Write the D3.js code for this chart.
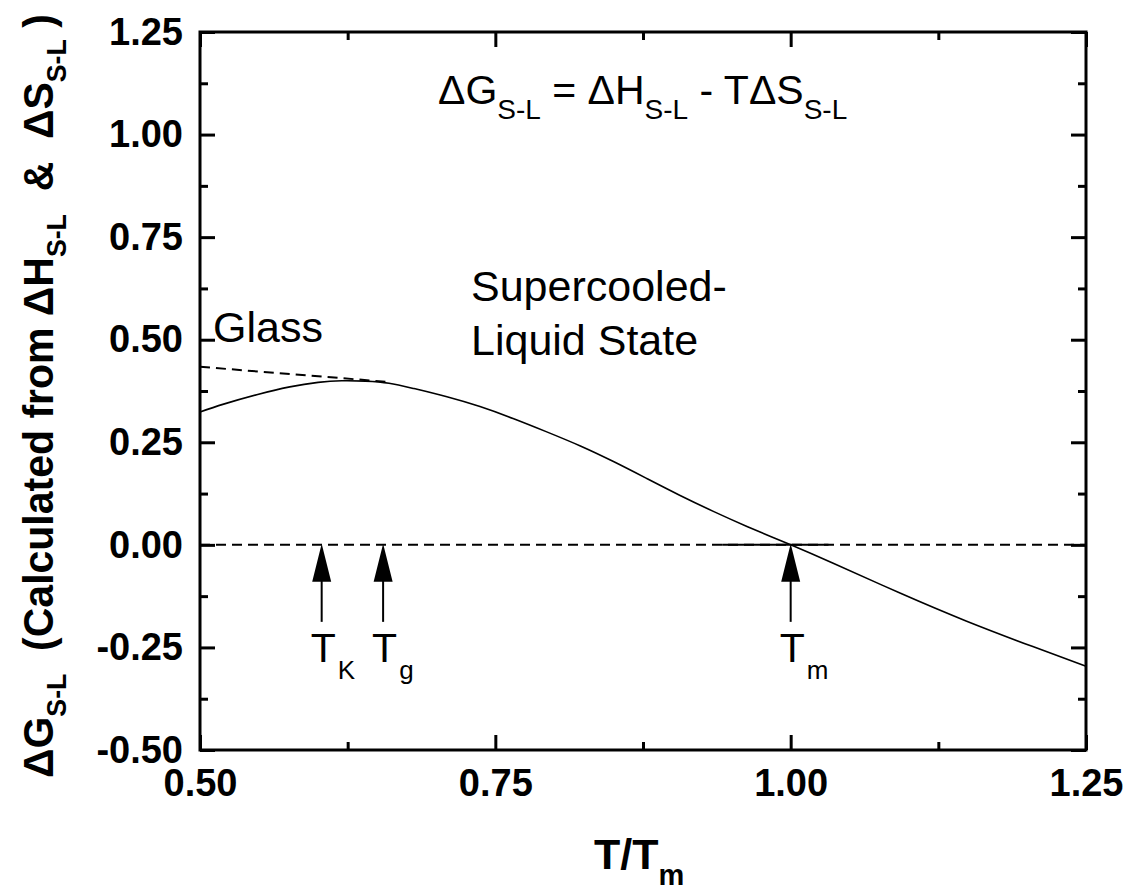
<!DOCTYPE html>
<html>
<head>
<meta charset="utf-8">
<script src="https://cdn.jsdelivr.net/npm/d3@7"></script>
<style>
  body { margin: 0; background: #fff; }
  svg text { font-family: "Liberation Sans", Arial, sans-serif; fill: #000; }
</style>
</head>
<body>
<svg id="chart" width="1139" height="892"></svg>
<script>
// values
var curveT = [0.50, 0.52, 0.548, 0.576, 0.60, 0.62, 0.64, 0.66, 0.681, 0.709, 0.737, 0.765, 0.793,
              0.822, 0.85, 0.878, 0.906, 0.935, 0.963, 1.0, 1.036, 1.093, 1.149, 1.205, 1.25];
var curveG = [0.324, 0.343, 0.366, 0.385, 0.396, 0.400, 0.399, 0.394, 0.381, 0.361, 0.337, 0.308, 0.276,
              0.241, 0.203, 0.162, 0.121, 0.081, 0.045, 0.0, -0.045, -0.118, -0.186, -0.248, -0.296];
var glassT = [0.50, 0.66];
var glassG = [0.434, 0.397];
var zeroT = [0.50, 1.25];
var meltT = [0.942, 1.032];
var arrowT = [0.603, 0.655, 1.0];
var arrowSub = ["K", "g", "m"];
var xMajor = [0.50, 0.75, 1.00, 1.25];
var xMinor = [0.625, 0.875, 1.125];
var yMajor = [-0.50, -0.25, 0.00, 0.25, 0.50, 0.75, 1.00, 1.25];
var yMinor = [-0.375, -0.125, 0.125, 0.375, 0.625, 0.875, 1.125];

var svg = d3.select("#chart");
var x = d3.scaleLinear().domain([0.5, 1.25]).range([200, 1086]);
var y = d3.scaleLinear().domain([-0.5, 1.25]).range([750, 32]);
var fmt = function(d) { return d3.format(".2f")(d).replace("\u2212", "-"); };

function styleAxis(g) {
    g.select(".domain").remove();
    g.selectAll(".tick line").attr("stroke", "#000").attr("stroke-width", 3);
    g.selectAll(".tick text").attr("font-size", 38).attr("font-weight", "bold")
        .attr("font-family", "'Liberation Sans', Arial, sans-serif");
}

// major + minor ticks on all four sides, pointing inward
svg.append("g").attr("transform", "translate(0,750)")
    .call(d3.axisBottom(x).tickValues(xMajor).tickSize(-15).tickPadding(19).tickFormat(fmt))
    .call(styleAxis);
svg.append("g").attr("transform", "translate(0,750)")
    .call(d3.axisBottom(x).tickValues(xMinor).tickSize(-8).tickFormat(""))
    .call(styleAxis);
svg.append("g").attr("transform", "translate(0,32)")
    .call(d3.axisTop(x).tickValues(xMajor).tickSize(-15).tickFormat(""))
    .call(styleAxis);
svg.append("g").attr("transform", "translate(0,32)")
    .call(d3.axisTop(x).tickValues(xMinor).tickSize(-8).tickFormat(""))
    .call(styleAxis);
svg.append("g").attr("transform", "translate(200,0)")
    .call(d3.axisLeft(y).tickValues(yMajor).tickSize(-15).tickPadding(17).tickFormat(fmt))
    .call(styleAxis);
svg.append("g").attr("transform", "translate(200,0)")
    .call(d3.axisLeft(y).tickValues(yMinor).tickSize(-8).tickFormat(""))
    .call(styleAxis);
svg.append("g").attr("transform", "translate(1086,0)")
    .call(d3.axisRight(y).tickValues(yMajor).tickSize(-15).tickFormat(""))
    .call(styleAxis);
svg.append("g").attr("transform", "translate(1086,0)")
    .call(d3.axisRight(y).tickValues(yMinor).tickSize(-8).tickFormat(""))
    .call(styleAxis);

// frame
svg.append("rect").attr("x", 200).attr("y", 32).attr("width", 886).attr("height", 718)
    .attr("fill", "none").attr("stroke", "#000").attr("stroke-width", 3);

var line = d3.line().x(function(d) { return x(d[0]); }).y(function(d) { return y(d[1]); });

// dashed zero line and glass extrapolation
svg.append("path").datum(zeroT.map(function(t) { return [t, 0]; }))
    .attr("d", line).attr("fill", "none").attr("stroke", "#000")
    .attr("stroke-width", 2).attr("stroke-dasharray", "10,6");
svg.append("path").datum(glassT.map(function(t, i) { return [t, glassG[i]]; }))
    .attr("d", line).attr("fill", "none").attr("stroke", "#000")
    .attr("stroke-width", 2).attr("stroke-dasharray", "10,6");
svg.append("path").datum(meltT.map(function(t) { return [t, 0]; }))
    .attr("d", line).attr("fill", "none").attr("stroke", "#000").attr("stroke-width", 2);

// main curve
svg.append("path").datum(curveT.map(function(t, i) { return [t, curveG[i]]; }))
    .attr("d", line.curve(d3.curveNatural))
    .attr("fill", "none").attr("stroke", "#000").attr("stroke-width", 1.6);

// arrows with T labels
var arrows = svg.selectAll("g.arrow").data(arrowT).enter().append("g")
    .attr("class", "arrow")
    .attr("transform", function(d) { return "translate(" + x(d) + "," + y(0) + ")"; });
arrows.append("path").attr("d", "M0,-1 L-9.5,37 L9.5,37 Z").attr("fill", "#000");
arrows.append("line").attr("x1", 0).attr("x2", 0).attr("y1", 36).attr("y2", 77)
    .attr("stroke", "#000").attr("stroke-width", 2);
var lab = arrows.append("text").attr("x", -11).attr("y", 117).attr("font-size", 41);
lab.append("tspan").text("T");
lab.append("tspan").attr("dy", 17).attr("dx", 2).attr("font-size", 26)
    .text(function(d, i) { return arrowSub[i]; });

// annotations
svg.append("text").attr("x", 213).attr("y", 342).attr("font-size", 43).text("Glass");
svg.append("text").attr("x", 471).attr("y", 301).attr("font-size", 43).text("Supercooled-");
svg.append("text").attr("x", 471).attr("y", 355).attr("font-size", 43).text("Liquid State");

var eq = svg.append("text").attr("x", 438).attr("y", 119).attr("font-size", 41);
[["\u0394G", false], ["S-L", true], [" = \u0394H", false], ["S-L", true],
 [" - T\u0394S", false], ["S-L", true]].forEach(function(p) {
    eq.append("tspan").attr("font-size", p[1] ? 28 : 41)
        .attr("dy", p[1] ? 15 : (eq.selectAll("tspan").size() ? -15 : 0))
        .text(p[0]);
});

// x axis title
var xt = svg.append("text").attr("x", 594).attr("y", 869).attr("font-size", 43).attr("font-weight", "bold");
xt.append("tspan").text("T/T");
xt.append("tspan").attr("font-size", 29).attr("dy", 16).text("m");

// y axis title (rotated, squeezed to the reference length)
var yt = svg.append("text").attr("font-size", 43).attr("font-weight", "bold")
    .attr("xml:space", "preserve").style("white-space", "pre");
[["\u0394G", false], ["S-L", true], ["  (Calculated from \u0394H", false], ["S-L", true],
 ["  &  \u0394S", false], ["S-L", true], [" )", false]].forEach(function(p, i) {
    yt.append("tspan").attr("font-size", p[1] ? 28 : 43)
        .attr("dy", p[1] ? 13 : (i ? -13 : 0))
        .text(p[0]);
});
var natural = yt.node().getComputedTextLength();
var target = 764;
yt.attr("transform", "translate(53,778) rotate(-90) scale(" + (target / natural) + ",1)");
</script>
</body>
</html>
